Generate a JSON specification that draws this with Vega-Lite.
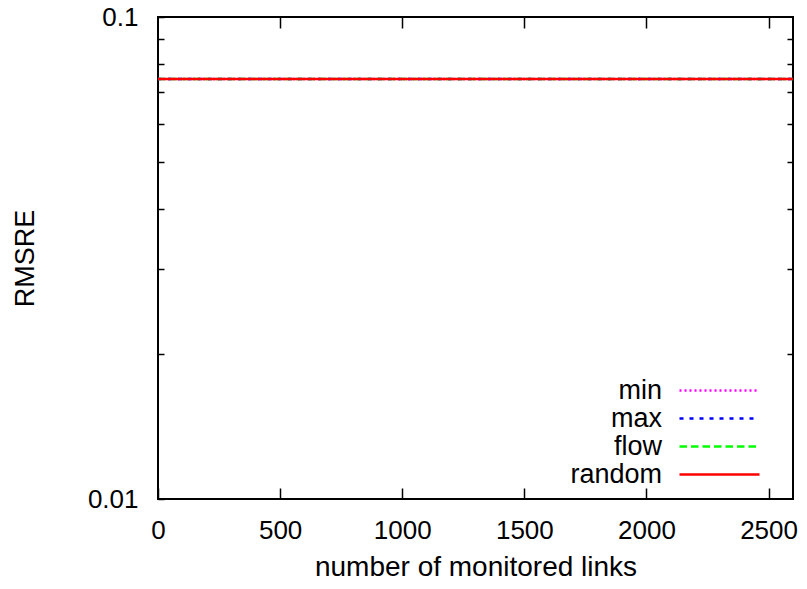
{
  "$schema": "https://vega.github.io/schema/vega-lite/v6.json",
  "width": 635,
  "height": 482,
  "autosize": "none",
  "padding": {"left": 158, "top": 17, "right": 14, "bottom": 90},
  "background": "white",
  "config": {
    "font": "Liberation Sans",
    "view": {"stroke": "black", "strokeWidth": 2},
    "axis": {"grid": false, "domain": false, "labelFont": "Liberation Sans", "titleFont": "Liberation Sans", "labelColor": "black", "titleColor": "black", "tickColor": "black", "tickWidth": 1.5, "titleFontWeight": "normal", "labelFontSize": 26, "titleFontSize": 27},
    "legend": {"labelFont": "Liberation Sans", "labelFontSize": 27, "labelColor": "black"}
  },
  "data": {"values": [
    {"links": 0, "rmsre": 0.0744, "method": "min"},
    {"links": 2600, "rmsre": 0.0744, "method": "min"},
    {"links": 0, "rmsre": 0.0744, "method": "max"},
    {"links": 2600, "rmsre": 0.0744, "method": "max"},
    {"links": 0, "rmsre": 0.0744, "method": "flow"},
    {"links": 2600, "rmsre": 0.0744, "method": "flow"},
    {"links": 0, "rmsre": 0.0744, "method": "random"},
    {"links": 2600, "rmsre": 0.0744, "method": "random"}
  ]},
  "resolve": {"axis": {"x": "independent", "y": "independent"}},
  "layer": [
    {
      "mark": {"type": "line", "strokeWidth": 2.5},
      "encoding": {
        "x": {"field": "links", "type": "quantitative", "scale": {"domain": [0, 2600], "nice": false, "zero": false},
          "axis": {"orient": "bottom", "title": "number of monitored links", "titleFontSize": 28, "format": "d", "values": [0, 500, 1000, 1500, 2000, 2500], "tickSize": -11, "labelPadding": 29.5, "titlePadding": 10, "labelFlush": false}},
        "y": {"field": "rmsre", "type": "quantitative", "scale": {"type": "log", "domain": [0.01, 0.1], "nice": false},
          "axis": {"orient": "left", "title": "RMSRE", "values": [0.01, 0.02, 0.03, 0.04, 0.05, 0.06, 0.07, 0.08, 0.09, 0.1], "labelExpr": "datum.value < 0.011 ? '0.01' : (datum.value > 0.099 ? '0.1' : '')", "tickSize": -6, "labelPadding": 26, "titlePadding": 48, "labelFlush": false}},
        "color": {"field": "method", "type": "nominal", "scale": {"domain": ["min", "max", "flow", "random"], "range": ["#ff00ff", "#0000ff", "#00ff00", "#ff0000"]},
          "legend": {"title": null, "orient": "none", "legendX": 548, "legendY": 360, "symbolType": "M-4,0H4", "symbolSize": 400, "symbolStrokeWidth": 2.5, "rowPadding": 0, "padding": 0, "labelAlign": "right", "labelOffset": -71, "labelBaseline": "middle"}},
        "strokeDash": {"field": "method", "type": "nominal", "scale": {"domain": ["min", "max", "flow", "random"], "range": [[2, 3], [4, 6], [7.5, 4], [1, 0]]}, "legend": null}
      }
    },
    {
      "mark": {"type": "line", "strokeOpacity": 0},
      "encoding": {
        "x": {"field": "links", "type": "quantitative",
          "axis": {"orient": "top", "title": null, "labels": false, "values": [500, 1000, 1500, 2000, 2500], "tickSize": -11}},
        "y": {"field": "rmsre", "type": "quantitative",
          "axis": {"orient": "right", "title": null, "labels": false, "values": [0.02, 0.03, 0.04, 0.05, 0.06, 0.07, 0.08, 0.09], "tickSize": -6}},
        "detail": {"field": "method"}
      }
    }
  ]
}
